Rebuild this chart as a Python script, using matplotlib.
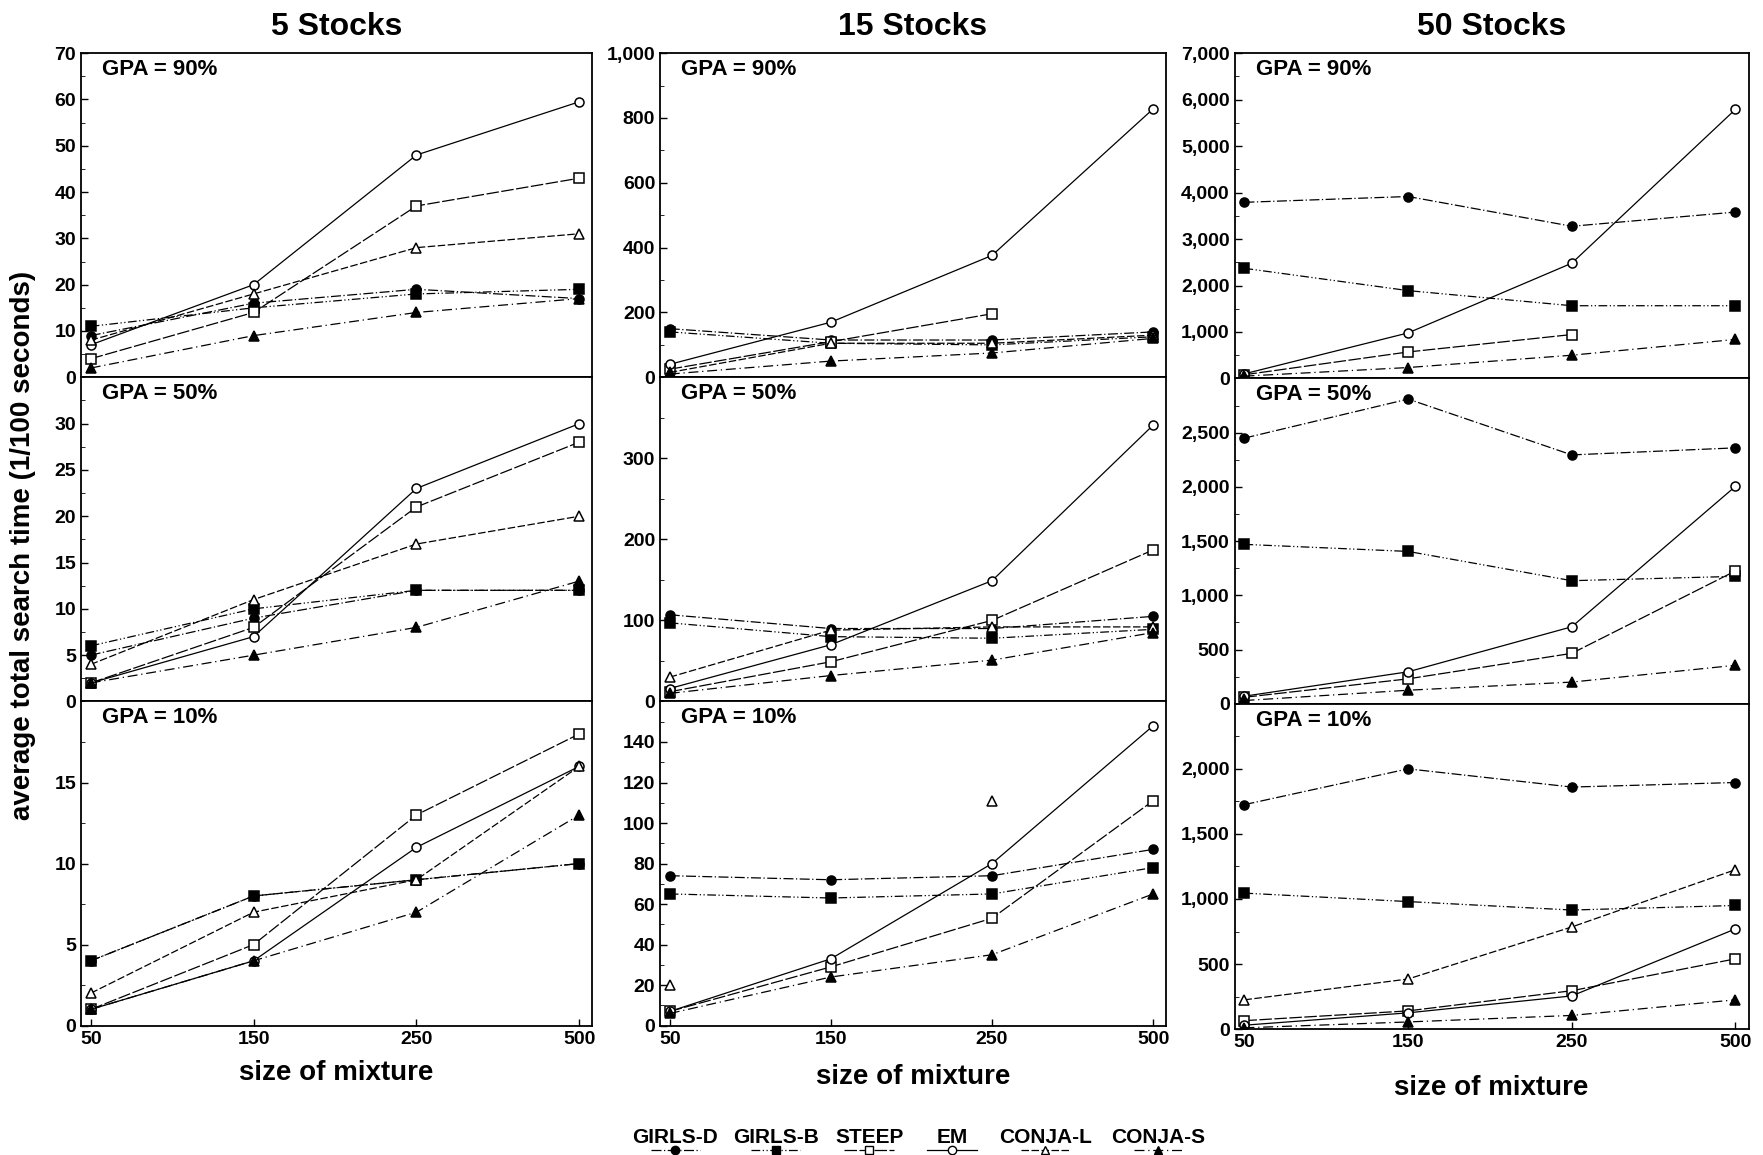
#!/usr/bin/env python3

import numpy as np
import matplotlib
matplotlib.use("Agg")
import matplotlib.pyplot as plt
from matplotlib.lines import Line2D
from matplotlib.ticker import AutoMinorLocator, StrMethodFormatter

nan = np.nan

mixture_sizes = ["50", "150", "250", "500"]
methods = ["GIRLS-D", "GIRLS-B", "STEEP", "EM", "CONJA-L", "CONJA-S"]
stock_titles = ["5 Stocks", "15 Stocks", "50 Stocks"]
gpa_labels = ["GPA = 90%", "GPA = 50%", "GPA = 10%"]

# values[stocks][gpa][method] -> 4 values for sizes 50,150,250,500
stocks5_gpa90 = {
    "GIRLS-D": [9, 16, 19, 17],
    "GIRLS-B": [11, 15, 18, 19],
    "STEEP": [4, 14, 37, 43],
    "EM": [7, 20, 48, 59.5],
    "CONJA-L": [8, 18, 28, 31],
    "CONJA-S": [2, 9, 14, 17],
}
stocks5_gpa50 = {
    "GIRLS-D": [5, 9, 12, 12],
    "GIRLS-B": [6, 10, 12, 12],
    "STEEP": [2, 8, 21, 28],
    "EM": [2, 7, 23, 30],
    "CONJA-L": [4, 11, 17, 20],
    "CONJA-S": [2, 5, 8, 13],
}
stocks5_gpa10 = {
    "GIRLS-D": [4, 8, 9, 10],
    "GIRLS-B": [4, 8, 9, 10],
    "STEEP": [1, 5, 13, 18],
    "EM": [1, 4, 11, 16],
    "CONJA-L": [2, 7, 9, 16],
    "CONJA-S": [1, 4, 7, 13],
}
stocks15_gpa90 = {
    "GIRLS-D": [150, 115, 115, 140],
    "GIRLS-B": [140, 105, 100, 125],
    "STEEP": [25, 110, 196, nan],
    "EM": [40, 170, 376, 828],
    "CONJA-L": [15, 105, 105, 130],
    "CONJA-S": [10, 50, 75, 120],
}
stocks15_gpa50 = {
    "GIRLS-D": [107, 90, 90, 105],
    "GIRLS-B": [97, 80, 78, 89],
    "STEEP": [12, 49, 100, 187],
    "EM": [16, 70, 149, 341],
    "CONJA-L": [30, 88, 92, 92],
    "CONJA-S": [10, 32, 51, 85],
}
stocks15_gpa10 = {
    "GIRLS-D": [74, 72, 74, 87],
    "GIRLS-B": [65, 63, 65, 78],
    "STEEP": [7, 29, 53, 111],
    "EM": [7, 33, 80, 148],
    "CONJA-L": [20, nan, 111, nan],
    "CONJA-S": [6, 24, 35, 65],
}
stocks50_gpa90 = {
    "GIRLS-D": [3790, 3915, 3275, 3580],
    "GIRLS-B": [2370, 1890, 1565, 1565],
    "STEEP": [80, 570, 945, nan],
    "EM": [100, 980, 2480, 5790],
    "CONJA-L": [60, nan, nan, nan],
    "CONJA-S": [50, 235, 500, 840],
}
stocks50_gpa50 = {
    "GIRLS-D": [2450, 2810, 2295, 2360],
    "GIRLS-B": [1470, 1405, 1135, 1175],
    "STEEP": [60, 230, 465, 1225],
    "EM": [70, 295, 710, 2005],
    "CONJA-L": [40, nan, nan, nan],
    "CONJA-S": [30, 125, 200, 355],
}
stocks50_gpa10 = {
    "GIRLS-D": [1725, 2000, 1860, 1895],
    "GIRLS-B": [1045, 980, 915, 950],
    "STEEP": [65, 140, 295, 540],
    "EM": [30, 125, 255, 770],
    "CONJA-L": [225, 385, 785, 1225],
    "CONJA-S": [10, 55, 105, 225],
}

panels = [
    [stocks5_gpa90, stocks5_gpa50, stocks5_gpa10],
    [stocks15_gpa90, stocks15_gpa50, stocks15_gpa10],
    [stocks50_gpa90, stocks50_gpa50, stocks50_gpa10],
]
ylims = [[70, 35, 20], [1000, 400, 160], [7000, 3000, 2500]]
ytick_steps = [[10, 5, 5], [200, 100, 20], [1000, 500, 500]]

styles = {
    "GIRLS-D": dict(marker="o", mfc="black", ls=(0, (8, 2, 1, 2))),
    "GIRLS-B": dict(marker="s", mfc="black", ls=(0, (7, 2, 1, 2, 1, 2))),
    "STEEP": dict(marker="s", mfc="white", ls=(0, (10, 2))),
    "EM": dict(marker="o", mfc="white", ls="-"),
    "CONJA-L": dict(marker="^", mfc="white", ls=(0, (6, 2))),
    "CONJA-S": dict(marker="^", mfc="black", ls=(0, (8, 3, 1, 3))),
}

plt.rcParams["font.family"] = ["Liberation Sans", "DejaVu Sans"]
plt.rcParams["font.weight"] = "bold"

fig = plt.figure(figsize=(17.63, 11.55), dpi=100)

col_left = [0.0459, 0.3744, 0.7003]
col_right = [0.3360, 0.6614, 0.9918]
col_bottom = [0.112, 0.112, 0.109]
xlabel_pad = [9, 12, 17]
top = 0.954

x = np.arange(len(mixture_sizes))

for c in range(3):
    h = (top - col_bottom[c]) / 3
    w = col_right[c] - col_left[c]
    for r in range(3):
        b = top - (r + 1) * h
        ax = fig.add_axes([col_left[c], b, w, h])
        data = panels[c][r]
        for m in methods:
            st = styles[m]
            ax.plot(x, data[m], color="black", lw=0.9, ls=st["ls"],
                    marker=st["marker"], mfc=st["mfc"], mec="black",
                    ms=6.5, mew=1.1)
        ax.set_xlim(-0.06, 3.08)
        ax.set_ylim(0, ylims[c][r])
        step = ytick_steps[c][r]
        upper = ylims[c][r] + step / 2 if r == 0 else ylims[c][r] - step / 2
        ax.set_yticks(np.arange(0, upper, step))
        ax.yaxis.set_minor_locator(AutoMinorLocator(2))
        ax.yaxis.set_major_formatter(StrMethodFormatter("{x:,.0f}"))
        ax.tick_params(axis="both", direction="in", labelsize=14, length=5, width=1)
        ax.tick_params(axis="y", which="minor", direction="in", length=3)
        for lab in ax.get_yticklabels():
            lab.set_fontweight("bold")
        ax.set_xticks(x)
        if r == 2:
            ax.set_xticklabels(mixture_sizes, fontsize=14, fontweight="bold")
            ax.set_xlabel("size of mixture", fontsize=20, fontweight="bold",
                          labelpad=xlabel_pad[c])
        else:
            ax.set_xticklabels([])
            ax.tick_params(axis="x", length=0)
        for sp in ax.spines.values():
            sp.set_linewidth(1.3)
        ax.text(0.042, 0.95, gpa_labels[r], transform=ax.transAxes,
                fontsize=16, fontweight="bold", va="center", ha="left")
        if r == 0:
            ax.set_title(stock_titles[c], fontsize=23, fontweight="bold", pad=13)

fig.text(0.013, 0.528, "average total search time (1/100 seconds)", rotation=90,
         fontsize=20, fontweight="bold", va="center", ha="center")

# legend: name above, line sample below
legend_x = [0.383, 0.440, 0.493, 0.540, 0.593, 0.657]
for m, lx in zip(methods, legend_x):
    st = styles[m]
    fig.text(lx, 0.0155, m, fontsize=15, fontweight="bold", ha="center", va="center")
    fig.add_artist(Line2D([lx - 0.014, lx, lx + 0.014], [0.004, 0.004, 0.004],
                          transform=fig.transFigure, color="black", lw=0.9,
                          ls=st["ls"], marker=st["marker"], mfc=st["mfc"],
                          mec="black", ms=6, markevery=[1]))

fig.savefig("out.png", dpi=100)
